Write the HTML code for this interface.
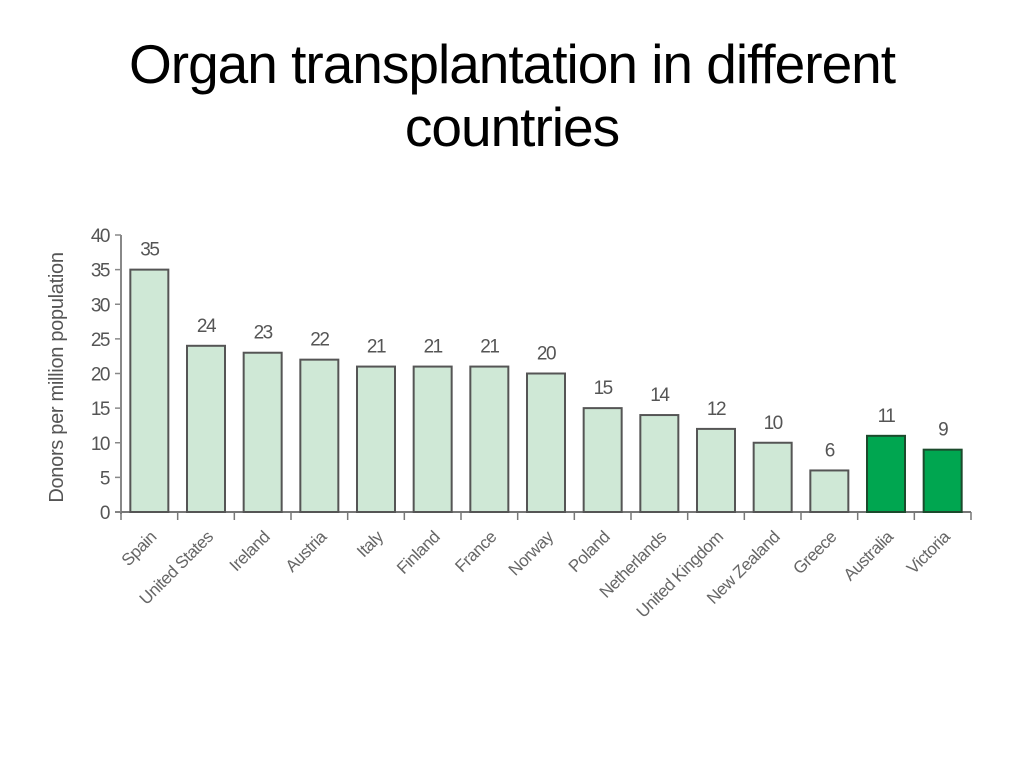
<!DOCTYPE html>
<html><head><meta charset="utf-8"><style>
body{margin:0;background:#fff;width:1024px;height:768px;overflow:hidden;font-family:"Liberation Sans",sans-serif}
h1{position:absolute;top:33px;left:0;width:1024px;margin:0;text-align:center;font-weight:normal;font-size:55px;line-height:63px;color:#000;letter-spacing:-1px}
</style></head><body>
<h1>Organ transplantation in different<br>countries</h1>
<svg id="c" width="1024" height="768" style="position:absolute;left:0;top:0"></svg>
<script>
const categories=["Spain","United States","Ireland","Austria","Italy","Finland","France","Norway","Poland","Netherlands","United Kingdom","New Zealand","Greece","Australia","Victoria"];
const values=[35,24,23,22,21,21,21,20,15,14,12,10,6,11,9];
const highlighted=[false,false,false,false,false,false,false,false,false,false,false,false,false,true,true];
const yTicks=[0,5,10,15,20,25,30,35,40];
const svg=document.getElementById('c');const NS='http://www.w3.org/2000/svg';
const x0=121,x1=971,y0=512,yTop=235,yMax=40;
const slot=(x1-x0)/categories.length;
const y=v=>y0-(v/yMax)*(y0-yTop);
const xc=i=>x0+slot*(i+0.5);
function mk(t,a,txt){const e=document.createElementNS(NS,t);for(const k in a)e.setAttribute(k,a[k]);if(txt!=null)e.textContent=txt;svg.appendChild(e);return e;}
let e;
e=mk('line',{x1:x0,y1:y0+2,x2:x0,y2:yTop,stroke:'#888','stroke-width':2});


e=mk('line',{x1:x0-6,y1:y0,x2:x1,y2:y0,stroke:'#777','stroke-width':2});


yTicks.forEach(v=>{
 e=mk('line',{x1:x0-6,y1:y(v),x2:x0,y2:y(v),stroke:'#888','stroke-width':1.5});
 
 
 e=mk('text',{x:x0-12,y:y(v)+7,'text-anchor':'end','font-size':19,fill:'#555','letter-spacing':-1.5},v);
 
 
});
for(let i=0;i<=categories.length;i++){
 e=mk('line',{x1:x0+slot*i,y1:y0,x2:x0+slot*i,y2:y0+8,stroke:'#777','stroke-width':1.5});
 
 
}
e=mk('text',{x:0,y:0,transform:`translate(63,${(y0+yTop)/2+4}) rotate(-90)`,'text-anchor':'middle','font-size':20,fill:'#555','letter-spacing':-0.3},'Donors per million population');


const bw=38;
categories.forEach((c,i)=>{
 const h=highlighted[i];
 e=mk('rect',{x:xc(i)-bw/2,y:y(values[i]),width:bw,height:y0-y(values[i]),fill:h?'#00a650':'#cfe8d6',stroke:h?'#1c4a2c':'#555','stroke-width':2});
 
 
 e=mk('text',{x:xc(i),y:y(values[i])-14,'text-anchor':'middle','font-size':19,fill:'#555','letter-spacing':-1.5},values[i]);
 
 
 e=mk('text',{x:0,y:0,transform:`translate(${xc(i)+8},${y0+26}) rotate(-45)`,'text-anchor':'end','font-size':17,fill:'#666','letter-spacing':-0.5},c);
 
 
});
</script>
</body></html>
